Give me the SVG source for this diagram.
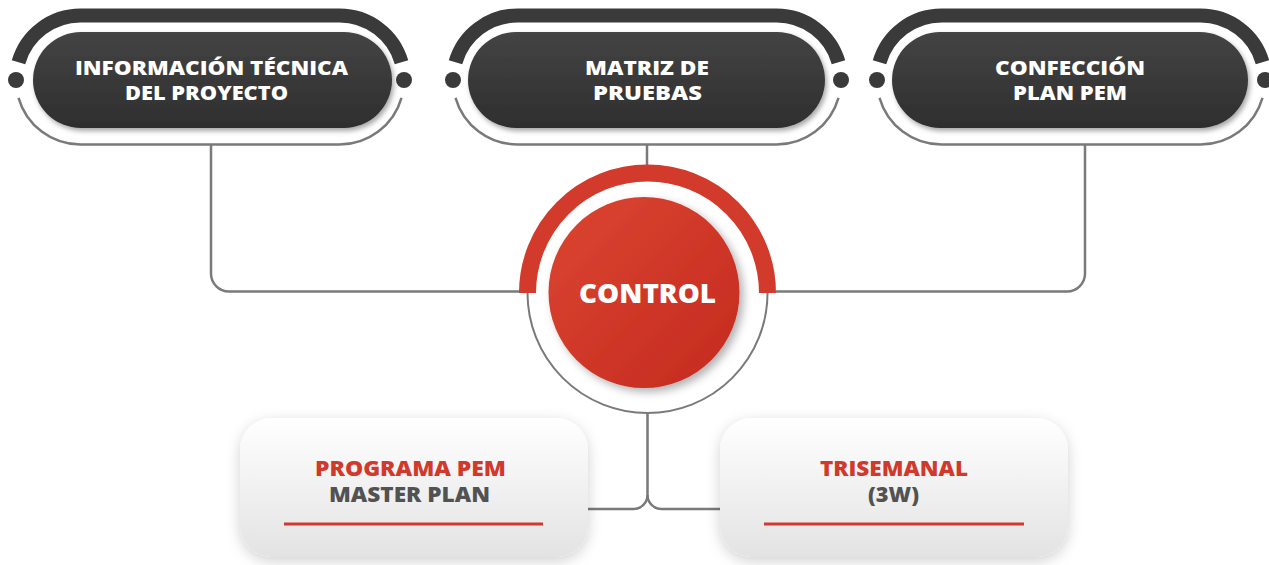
<svg xmlns="http://www.w3.org/2000/svg" xmlns:xlink="http://www.w3.org/1999/xlink" width="1269" height="565" viewBox="0 0 1269 565">
<style>
.thick{fill:none;stroke:#3a3a3a;stroke-width:14;stroke-linecap:butt}
.thin{fill:none;stroke:#7a7a7a;stroke-width:2.5}
.dot{fill:#3a3a3a}
.pill{fill:url(#pillGrad);filter:url(#pillShadow)}
.ttl{font-family:"Open Sans","Liberation Sans",sans-serif;font-weight:800;font-size:20px;fill:#ffffff;text-anchor:middle}
.conn{fill:none;stroke:#7a7a7a;stroke-width:2.5}
.box{fill:url(#boxGrad);filter:url(#boxShadow)}
.red{font-family:"Open Sans","Liberation Sans",sans-serif;font-weight:800;font-size:20.5px;fill:#d0392b;text-anchor:middle}
.gry{font-family:"Open Sans","Liberation Sans",sans-serif;font-weight:800;font-size:20.5px;fill:#525252;text-anchor:middle}
.uline{stroke:#d0392b;stroke-width:3}
</style>
<defs>
<linearGradient id="pillGrad" x1="0" y1="0" x2="0" y2="1">
<stop offset="0" stop-color="#444444"/>
<stop offset="1" stop-color="#2e2e2e"/>
</linearGradient>
<linearGradient id="boxGrad" x1="0" y1="0" x2="0" y2="1">
<stop offset="0" stop-color="#ffffff"/>
<stop offset="1" stop-color="#e3e3e3"/>
</linearGradient>
<linearGradient id="redGrad" x1="0" y1="0" x2="1" y2="1">
<stop offset="0" stop-color="#dc4632"/>
<stop offset="1" stop-color="#c4291f"/>
</linearGradient>
<filter id="pillShadow" x="-10%" y="-20%" width="120%" height="150%">
<feDropShadow dx="2" dy="3" stdDeviation="2.5" flood-color="#000" flood-opacity="0.35"/>
</filter>
<filter id="boxShadow" x="-15%" y="-20%" width="130%" height="150%">
<feDropShadow dx="0" dy="4" stdDeviation="7" flood-color="#000" flood-opacity="0.18"/>
</filter>
<filter id="circShadow" x="-20%" y="-20%" width="150%" height="150%">
<feDropShadow dx="4" dy="4" stdDeviation="4" flood-color="#000" flood-opacity="0.3"/>
</filter>
<g id="frame">
<path class="thick" d="M -191.5 -17.8 A 64.5 64.5 0 0 1 -129.5 -64.5 L 129.5 -64.5 A 64.5 64.5 0 0 1 191.5 -17.8"/>
<path class="thin" d="M -191.5 17.8 A 64.5 64.5 0 0 0 -129.5 64.5 L 129.5 64.5 A 64.5 64.5 0 0 0 191.5 17.8"/>
<circle class="dot" cx="-194" cy="0" r="8"/>
<circle class="dot" cx="194" cy="0" r="8"/>
</g>
</defs>

<g id="connectors">
<path class="conn" d="M 211 145 V 273 A 18 18 0 0 0 229 291.5 H 521"/>
<path class="conn" d="M 1085 145 V 273 A 18 18 0 0 1 1067 291.5 H 776"/>
<path class="conn" d="M 647 145 V 166"/>
<path class="conn" d="M 647.5 413 V 495 A 14 14 0 0 1 633.5 509 H 588"/>
<path class="conn" d="M 647.5 495 A 14 14 0 0 0 661.5 509 H 720"/>
</g>

<g id="node-info">
<use xlink:href="#frame" href="#frame" transform="translate(210,80)"/>
<rect class="pill" x="33" y="32" width="359" height="96" rx="48"/>
<text class="ttl" x="211.5" y="75" textLength="273" lengthAdjust="spacingAndGlyphs">INFORMACIÓN TÉCNICA</text>
<text class="ttl" x="206.5" y="100" textLength="163" lengthAdjust="spacingAndGlyphs">DEL PROYECTO</text>
</g>

<g id="node-matriz">
<use xlink:href="#frame" href="#frame" transform="translate(647,80)"/>
<rect class="pill" x="468" y="32" width="357" height="96" rx="48"/>
<text class="ttl" x="647" y="75" textLength="124" lengthAdjust="spacingAndGlyphs">MATRIZ DE</text>
<text class="ttl" x="647.5" y="100" textLength="109" lengthAdjust="spacingAndGlyphs">PRUEBAS</text>
</g>

<g id="node-confeccion">
<use xlink:href="#frame" href="#frame" transform="translate(1071,80)"/>
<rect class="pill" x="892" y="32" width="356" height="96" rx="48"/>
<text class="ttl" x="1070" y="75" textLength="150" lengthAdjust="spacingAndGlyphs">CONFECCIÓN</text>
<text class="ttl" x="1070" y="100" textLength="114" lengthAdjust="spacingAndGlyphs">PLAN PEM</text>
</g>

<g id="node-control">
<path d="M 527.5 293 A 120 120 0 0 1 767.5 293" fill="none" stroke="#d23a2c" stroke-width="17"/>
<path d="M 527.5 293 A 120 120 0 0 0 767.5 293" fill="none" stroke="#7a7a7a" stroke-width="2"/>
<circle cx="644" cy="292.5" r="95.5" fill="url(#redGrad)" filter="url(#circShadow)"/>
<text x="647.5" y="303" font-family="'Open Sans','Liberation Sans',sans-serif" font-weight="800" font-size="26" fill="#ffffff" text-anchor="middle" textLength="137" lengthAdjust="spacingAndGlyphs">CONTROL</text>
</g>

<g id="node-programa">
<rect class="box" x="240" y="418" width="348" height="139" rx="32"/>
<text class="red" x="410.5" y="476" textLength="191" lengthAdjust="spacingAndGlyphs">PROGRAMA PEM</text>
<text class="gry" x="409.5" y="502" textLength="161" lengthAdjust="spacingAndGlyphs">MASTER PLAN</text>
<line class="uline" x1="284" y1="524" x2="543" y2="524"/>
</g>

<g id="node-trisemanal">
<rect class="box" x="720" y="418" width="348" height="139" rx="32"/>
<text class="red" x="894" y="476" textLength="148" lengthAdjust="spacingAndGlyphs">TRISEMANAL</text>
<text class="gry" x="893.5" y="502" textLength="51" lengthAdjust="spacingAndGlyphs">(3W)</text>
<line class="uline" x1="764" y1="524" x2="1024" y2="524"/>
</g>
</svg>
